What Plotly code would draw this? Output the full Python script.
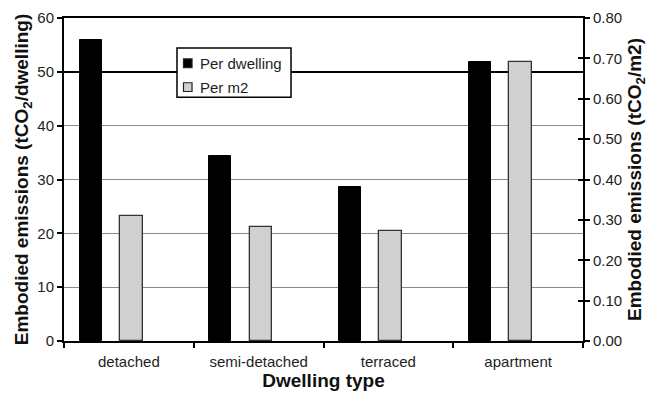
import plotly.graph_objects as go

categories = ["detached", "semi-detached", "terraced", "apartment"]
per_dwelling = [56.0, 34.3, 28.7, 51.9]      # tCO2 per dwelling (left axis)
per_m2 = [0.31, 0.283, 0.272, 0.69]          # tCO2 per m2 (right axis)
left_ticks = [0, 10, 20, 30, 40, 50, 60]
right_ticks = [0.0, 0.1, 0.2, 0.3, 0.4, 0.5, 0.6, 0.7, 0.8]
grey_grid = [10, 20, 30, 40]
bold_grid = [50]
series_names = ["Per dwelling", "Per m2"]
series_colors = ["black", "#d0d0d0"]

FONT = "Liberation Sans, Arial, sans-serif"
TXT = "#1e1e1e"

fig = go.Figure()
fig.add_trace(go.Bar(
    x=categories, y=per_dwelling, name=series_names[0],
    marker=dict(color=series_colors[0], line=dict(color="black", width=1)),
    width=0.17, offset=-0.38, yaxis="y", showlegend=False,
))
fig.add_trace(go.Bar(
    x=categories, y=per_m2, name=series_names[1],
    marker=dict(color=series_colors[1], line=dict(color="#333", width=1.3)),
    width=0.175, offset=-0.07, yaxis="y2", showlegend=False,
))
# empty traces that bring in the helper axes (crossing ticks, grid lines)
for ax in ["y3", "y4", "y5"]:
    fig.add_trace(go.Scatter(x=[], y=[], yaxis=ax, showlegend=False, hoverinfo="skip"))

# boxed legend in the upper-left part of the plot
lx0, lx1, ly0, ly1 = 0.2177, 0.4374, 0.755, 0.907
fig.add_shape(type="rect", xref="paper", yref="paper", x0=lx0, x1=lx1, y0=ly0, y1=ly1,
              line=dict(color="black", width=1.5), fillcolor="white", layer="above")
rows_y = [0.860, 0.786]
sq_w, sq_h = 0.0165, 0.027
for name, color, yc in zip(series_names, series_colors, rows_y):
    fig.add_shape(type="rect", xref="paper", yref="paper",
                  x0=lx0 + 0.0125, x1=lx0 + 0.0125 + sq_w,
                  y0=yc - sq_h / 2, y1=yc + sq_h / 2,
                  line=dict(color="#222", width=1.2), fillcolor=color, layer="above")
    fig.add_annotation(xref="paper", yref="paper", x=lx0 + 0.040, y=yc,
                       xanchor="left", yanchor="middle", text=name, showarrow=False,
                       font=dict(size=15, color=TXT, family=FONT))

hidden = dict(showticklabels=False, showline=False, zeroline=False, ticks="")

fig.update_layout(
    width=648, height=402,
    margin=dict(l=64, r=65, t=18, b=61),
    paper_bgcolor="white", plot_bgcolor="white",
    font=dict(family=FONT, color=TXT),
    xaxis=dict(
        type="category", range=[-0.5, 3.5], automargin=False,
        showline=True, linecolor="black", linewidth=2, mirror=True,
        ticks="outside", tickson="boundaries", ticklen=5, tickwidth=2, tickcolor="black",
        tickfont=dict(size=15, color=TXT), ticklabelstandoff=6,
        title=dict(text="<b>Dwelling type</b>", font=dict(size=19, color="#111"), standoff=4),
        showgrid=False,
    ),
    yaxis=dict(
        range=[0, 60], tickvals=left_ticks, automargin=False,
        showline=True, linecolor="black", linewidth=2,
        ticks="outside", ticklen=5, tickwidth=2, tickcolor="black",
        tickfont=dict(size=15, color=TXT),
        showgrid=False, zeroline=False,
        title=dict(text="<b>Embodied emissions (tCO<sub>2</sub>/dwelling)</b>",
                   font=dict(size=19, color="#111"), standoff=4),
    ),
    yaxis2=dict(
        range=[0, 0.8], tickvals=right_ticks, tickformat=".2f", automargin=False,
        overlaying="y", side="right",
        showline=True, linecolor="black", linewidth=2,
        ticks="outside", ticklen=5, tickwidth=2, tickcolor="black",
        tickfont=dict(size=15, color=TXT),
        showgrid=False, zeroline=False,
        title=dict(text="<b>Embodied emissions (tCO<sub>2</sub>/m2)</b>",
                   font=dict(size=19, color="#111"), standoff=17),
    ),
    # inner half of the crossing tick marks on the right axis
    yaxis3=dict(
        range=[0, 0.8], tickvals=right_ticks, overlaying="y", side="right",
        ticks="inside", ticklen=5, tickwidth=2, tickcolor="black", automargin=False,
        showticklabels=False, showgrid=False, zeroline=False, showline=False,
    ),
    # thin grey grid lines
    yaxis4=dict(range=[0, 60], tickvals=grey_grid, overlaying="y", automargin=False,
                showgrid=True, gridcolor="#8a8a8a", gridwidth=1, **hidden),
    # heavier line at 50 tCO2/dwelling
    yaxis5=dict(range=[0, 60], tickvals=bold_grid, overlaying="y", automargin=False,
                showgrid=True, gridcolor="black", gridwidth=2, **hidden),
    bargap=0, barmode="overlay",
)

fig.write_html("out.html")
